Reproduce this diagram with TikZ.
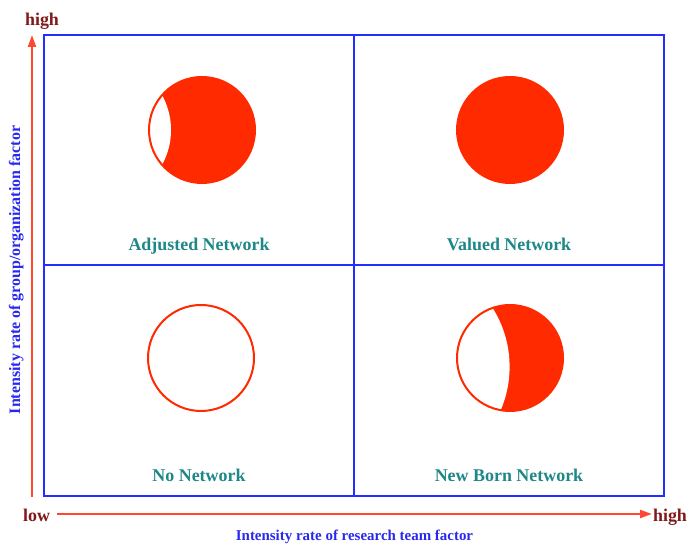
\documentclass[tikz,border=0pt]{standalone}
\usepackage{fontspec}
\setmainfont{Liberation Serif}
\usetikzlibrary{arrows.meta}
\definecolor{gridblue}{RGB}{35,45,255}
\definecolor{axisred}{RGB}{255,72,50}
\definecolor{discred}{RGB}{255,42,0}
\definecolor{endred}{RGB}{128,26,26}
\definecolor{labteal}{RGB}{30,135,135}
\definecolor{axisblue}{RGB}{40,40,240}
\tikzset{
  gridline/.style  = {draw=gridblue, line width=2bp},
  axisar/.style    = {-{Triangle[length=12bp,width=8bp]}, axisred, line width=2bp},
  endlabel/.style  = {text=endred, font=\bfseries\fontsize{18}{20}\selectfont,
                      inner sep=0pt, anchor=base},
  quadlabel/.style = {text=labteal, font=\bfseries\fontsize{18}{20}\selectfont,
                      inner sep=0pt, anchor=base},
  axislabel/.style = {text=axisblue, font=\bfseries\fontsize{15}{17}\selectfont,
                      inner sep=0pt, anchor=base},
  disc/.style      = {circle, draw=discred, line width=2bp, inner sep=0pt,
                      minimum size=106bp}
}

\begin{document}
\begin{tikzpicture}[x=1bp,y=1bp]
  \useasboundingbox (0,0) rectangle (687,545);
  % quadrant grid
  \draw[gridline] (44,49) rectangle (664,510);
  \draw[gridline] (354,49) -- (354,510);
  \draw[gridline] (44,280) -- (664,280);

  % axes
  \coordinate (yfoot) at (32,48);
  \coordinate (ytip)  at (32,510);
  \coordinate (xfoot) at (57,31);
  \coordinate (xtip)  at (652,31);
  \draw[axisar] (yfoot) -- (ytip);
  \draw[axisar] (xfoot) -- (xtip);
  \node[endlabel] (yhigh) at (42,519)   {high};
  \node[endlabel] (xlow)  at (36.5,23)  {low};
  \node[endlabel] (xhigh) at (670,23)   {high};
  \node[axislabel] (xname) at (354.5,4) {Intensity rate of research team factor};
  \node[axislabel, rotate=90, font=\bfseries\fontsize{16}{18}\selectfont]
       (yname) at (20,275) {Intensity rate of group/organization factor};

  % discs
  \node[disc, fill=discred, path picture={
      \fill[white] ([xshift=-103bp]path picture bounding box.center) circle (72bp);}]
      (adjdisc) at (202,415) {};
  \node[disc, fill=discred] (valdisc) at (510,415) {};
  \node[disc, fill=white]   (nodisc)  at (201,187) {};
  \node[disc, fill=discred, path picture={
      \fill[white] ([xshift=-110.4bp,yshift=-8.8bp]path picture bounding box.center) circle (110bp);}]
      (newdisc) at (510,187) {};

  \node[quadlabel] (adjlab) at (199,294) {Adjusted Network};
  \node[quadlabel] (vallab) at (509,294) {Valued Network};
  \node[quadlabel] (nolab)  at (199,63)  {No Network};
  \node[quadlabel] (newlab) at (509,63)  {New Born Network};
\end{tikzpicture}
\end{document}
